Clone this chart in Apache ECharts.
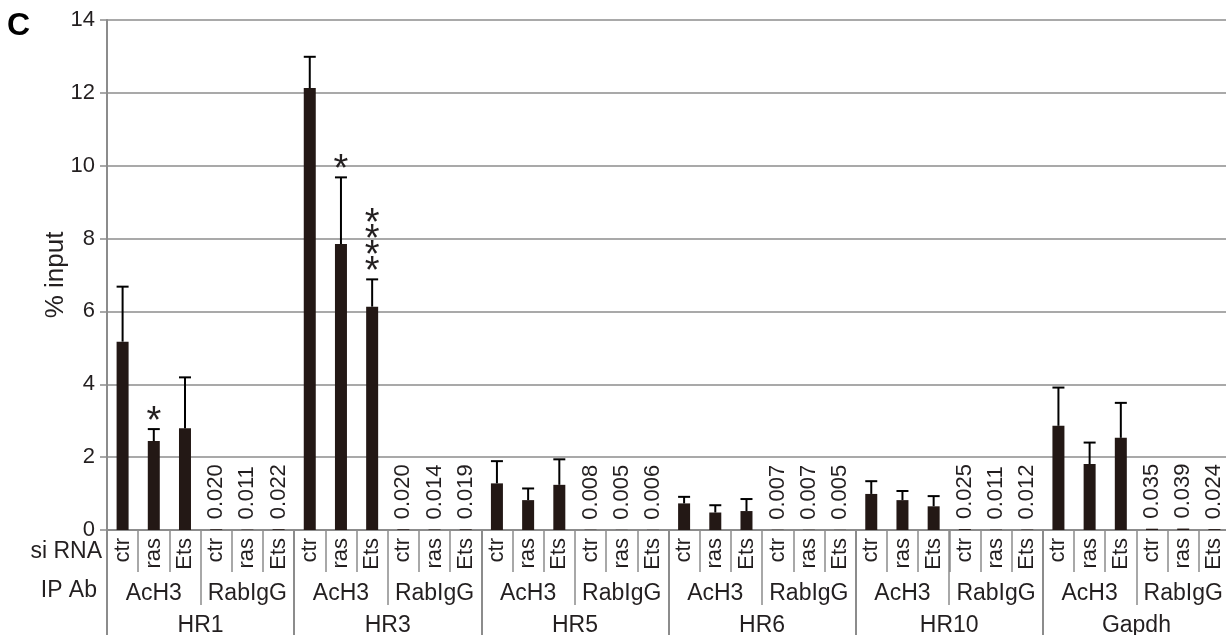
<!DOCTYPE html>
<html>
<head>
<meta charset="utf-8">
<script src="https://cdn.jsdelivr.net/npm/echarts@6/dist/echarts.min.js"></script>
<style>
  html, body { margin: 0; padding: 0; background: #fff; }
  #chart { width: 1226px; height: 635px; }
</style>
</head>
<body>
<div id="chart"></div>
<script>
// chart data
const regions = ['HR1', 'HR3', 'HR5', 'HR6', 'HR10', 'Gapdh']
const antibodies = ['AcH3', 'RabIgG']
const siRNAs = ['ctr', 'ras', 'Ets']
const yTicks = [0, 2, 4, 6, 8, 10, 12, 14]

// % input, per region: ctr, ras, Ets
const acH3Mean = [
  5.17, 2.44, 2.79,
  12.13, 7.85, 6.13,
  1.28, 0.82, 1.24,
  0.73, 0.48, 0.52,
  0.99, 0.82, 0.65,
  2.86, 1.81, 2.53
]
const acH3Sd = [
  1.51, 0.33, 1.40,
  0.86, 1.83, 0.75,
  0.61, 0.32, 0.70,
  0.18, 0.20, 0.33,
  0.35, 0.25, 0.28,
  1.05, 0.59, 0.96
]
const igGMean = [
  0.020, 0.011, 0.022,
  0.020, 0.014, 0.019,
  0.008, 0.005, 0.006,
  0.007, 0.007, 0.005,
  0.025, 0.011, 0.012,
  0.035, 0.039, 0.024
]
// significance marks on AcH3 bars
const acH3Stars = [
  '', '*', '',
  '', '*', '****',
  '', '', '',
  '', '', '',
  '', '', '',
  '', '', ''
]

const textColor = '#231f20'
const lineColor = '#8c8c8c'
const font = 'Arial, "Liberation Sans", sans-serif'

// build the 36 categories
let siLabels = []
let abLabels = []
let means = []
let sds = []
let stars = []
regions.forEach((r, ri) => {
  antibodies.forEach((ab, ai) => {
    abLabels.push(ab)
    siRNAs.forEach((s, si) => {
      let k = ri * 3 + si
      siLabels.push(s)
      if (ai === 0) {
        means.push(acH3Mean[k]); sds.push(acH3Sd[k]); stars.push(acH3Stars[k])
      } else {
        means.push(igGMean[k]); sds.push(0); stars.push('')
      }
    })
  })
})

let barData = means.map((v, i) => ({
  value: v,
  label: { show: sds[i] === 0 }
}))
let errData = means.map((v, i) => [i, v, sds[i]])

let mychart = echarts.init(document.getElementById('chart'))
let option = {
  animation: false,
  textStyle: { fontFamily: font, color: textColor },
  grid: { left: 107, top: 20, width: 1123, height: 510, outerBoundsMode: 'none', containLabel: false },
  graphic: [
    { type: 'text', left: 7, top: 10, style: { text: 'C', font: 'bold 32px ' + font, fill: '#000' } },
    { type: 'text', right: 1124, top: 540, style: { text: 'si RNA', font: '23px ' + font, fill: textColor } },
    { type: 'text', right: 1129, top: 579, style: { text: 'IP Ab', font: '23px ' + font, fill: textColor } }
  ],
  xAxis: [
    {
      type: 'category',
      position: 'bottom',
      data: siLabels,
      axisLine: { lineStyle: { color: lineColor, width: 2 } },
      axisTick: { show: true, interval: 0, length: 42, lineStyle: { color: lineColor, width: 1.5 } },
      axisLabel: { interval: 0, rotate: 90, margin: 8, fontSize: 22, color: textColor }
    },
    {
      type: 'category',
      position: 'bottom',
      offset: 0,
      data: abLabels,
      axisLine: { show: false },
      axisTick: { show: true, interval: 0, length: 75, lineStyle: { color: lineColor, width: 1.5 } },
      axisLabel: { interval: 0, margin: 52, fontSize: 23, color: textColor }
    },
    {
      type: 'category',
      position: 'bottom',
      offset: 0,
      data: regions,
      axisLine: { show: false },
      axisTick: { show: true, interval: 0, length: 120, lineStyle: { color: lineColor, width: 2 } },
      axisLabel: { interval: 0, margin: 84, fontSize: 23, color: textColor }
    }
  ],
  yAxis: {
    type: 'value',
    min: yTicks[0],
    max: yTicks[yTicks.length - 1],
    interval: 2,
    name: '% input',
    nameLocation: 'middle',
    nameGap: 38,
    nameMoveOverlap: false,
    nameTextStyle: { fontSize: 26, color: textColor },
    axisLine: { show: true, lineStyle: { color: lineColor, width: 2 } },
    axisTick: { show: true, length: 7, lineStyle: { color: lineColor, width: 1.5 } },
    axisLabel: { fontSize: 22, margin: 12, color: textColor },
    splitLine: { lineStyle: { color: lineColor, width: 1.5 } }
  },
  series: [
    {
      type: 'bar',
      data: barData,
      barWidth: 12,
      itemStyle: { color: '#231815' },
      label: {
        position: 'top',
        rotate: 90,
        align: 'left',
        verticalAlign: 'middle',
        distance: 8,
        offset: [2, 0],
        fontSize: 22,
        color: textColor,
        formatter: p => p.value.toFixed(3)
      }
    },
    {
      type: 'custom',
      data: errData,
      clip: false,
      z: 3,
      renderItem: function (params, api) {
        let x = api.value(0)
        let v = api.value(1)
        let e = api.value(2)
        let base = api.coord([x, v])
        let top = api.coord([x, v + e])
        let children = []
        if (e > 0) {
          children.push({
            type: 'line',
            shape: { x1: base[0], y1: base[1], x2: top[0], y2: top[1] },
            style: { stroke: '#000', lineWidth: 2 }
          })
          children.push({
            type: 'line',
            shape: { x1: top[0] - 6, y1: top[1], x2: top[0] + 6, y2: top[1] },
            style: { stroke: '#000', lineWidth: 2 }
          })
        }
        let s = stars[params.dataIndex]
        if (s) {
          children.push({
            type: 'text',
            style: {
              text: s.split('').join('\n'),
              x: top[0],
              y: top[1] + 1,
              align: 'center',
              verticalAlign: 'bottom',
              fontSize: 38,
              fontFamily: font,
              lineHeight: 16,
              fill: textColor
            }
          })
        }
        return { type: 'group', children: children }
      }
    }
  ]
}
mychart.setOption(option)
</script>
</body>
</html>
